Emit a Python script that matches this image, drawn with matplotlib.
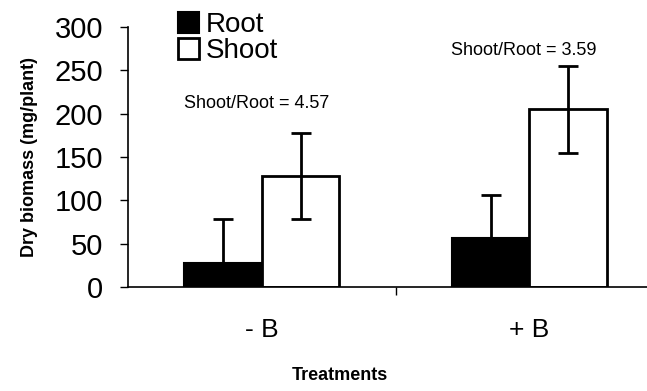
import numpy as np
import matplotlib
matplotlib.use("Agg")
import matplotlib.pyplot as plt

plt.rcParams['font.family'] = ['Liberation Sans', 'DejaVu Sans']

# data
treatments = ["- B", "+ B"]
root = [28, 57]
shoot = [128, 205]
root_err = [50, 49]
shoot_err = [50, 50]
ratio_labels = ["Shoot/Root = 4.57", "Shoot/Root = 3.59"]
ratio_y = [212, 273]

fig = plt.figure(figsize=(6.47, 3.91), dpi=100)
ax = fig.add_axes([0.198, 0.266, 0.802, 0.665])

x = np.arange(len(treatments))
w = 0.29
ekw = dict(elinewidth=2, capthick=2, ecolor="black")
ax.bar(x - w / 2, root, w, color="black", edgecolor="black", linewidth=1.5,
       yerr=root_err, capsize=7, error_kw=ekw, label="Root")
ax.bar(x + w / 2, shoot, w, color="white", edgecolor="black", linewidth=2,
       yerr=shoot_err, capsize=7, error_kw=ekw, label="Shoot")

for xi, lab, yy in zip(x, ratio_labels, ratio_y):
    ax.text(xi - 0.02, yy, lab, ha="center", va="center", fontsize=13)

ax.set_xlim(-0.5, 1.44)
ax.set_ylim(0, 300)
ax.set_yticks(range(0, 301, 50))
ax.set_xticks([0.5])
ax.set_xticklabels([""])
ax.tick_params(axis="y", labelsize=21, direction="out", length=6, width=1, pad=12)
ax.tick_params(axis="x", direction="out", length=6, width=1)
for xi, t in zip(x, treatments):
    ax.text(xi, -50, t, ha="center", va="center", fontsize=19,
            transform=ax.transData, clip_on=False)

ax.spines["top"].set_visible(False)
ax.spines["right"].set_visible(False)
ax.spines["left"].set_linewidth(1.2)
ax.spines["bottom"].set_linewidth(1.2)

ax.set_ylabel("Dry biomass (mg/plant)", fontsize=13, fontweight="bold", labelpad=12)
fig.text(0.525, 0.04, "Treatments", ha="center", va="center",
         fontsize=13, fontweight="bold")

leg = ax.legend(loc="upper left", bbox_to_anchor=(0.07, 1.11), frameon=False,
                fontsize=20, handlelength=0.75, handleheight=0.75,
                handletextpad=0.25, labelspacing=0.0, borderpad=0)

fig.savefig("out.png", dpi=100)
